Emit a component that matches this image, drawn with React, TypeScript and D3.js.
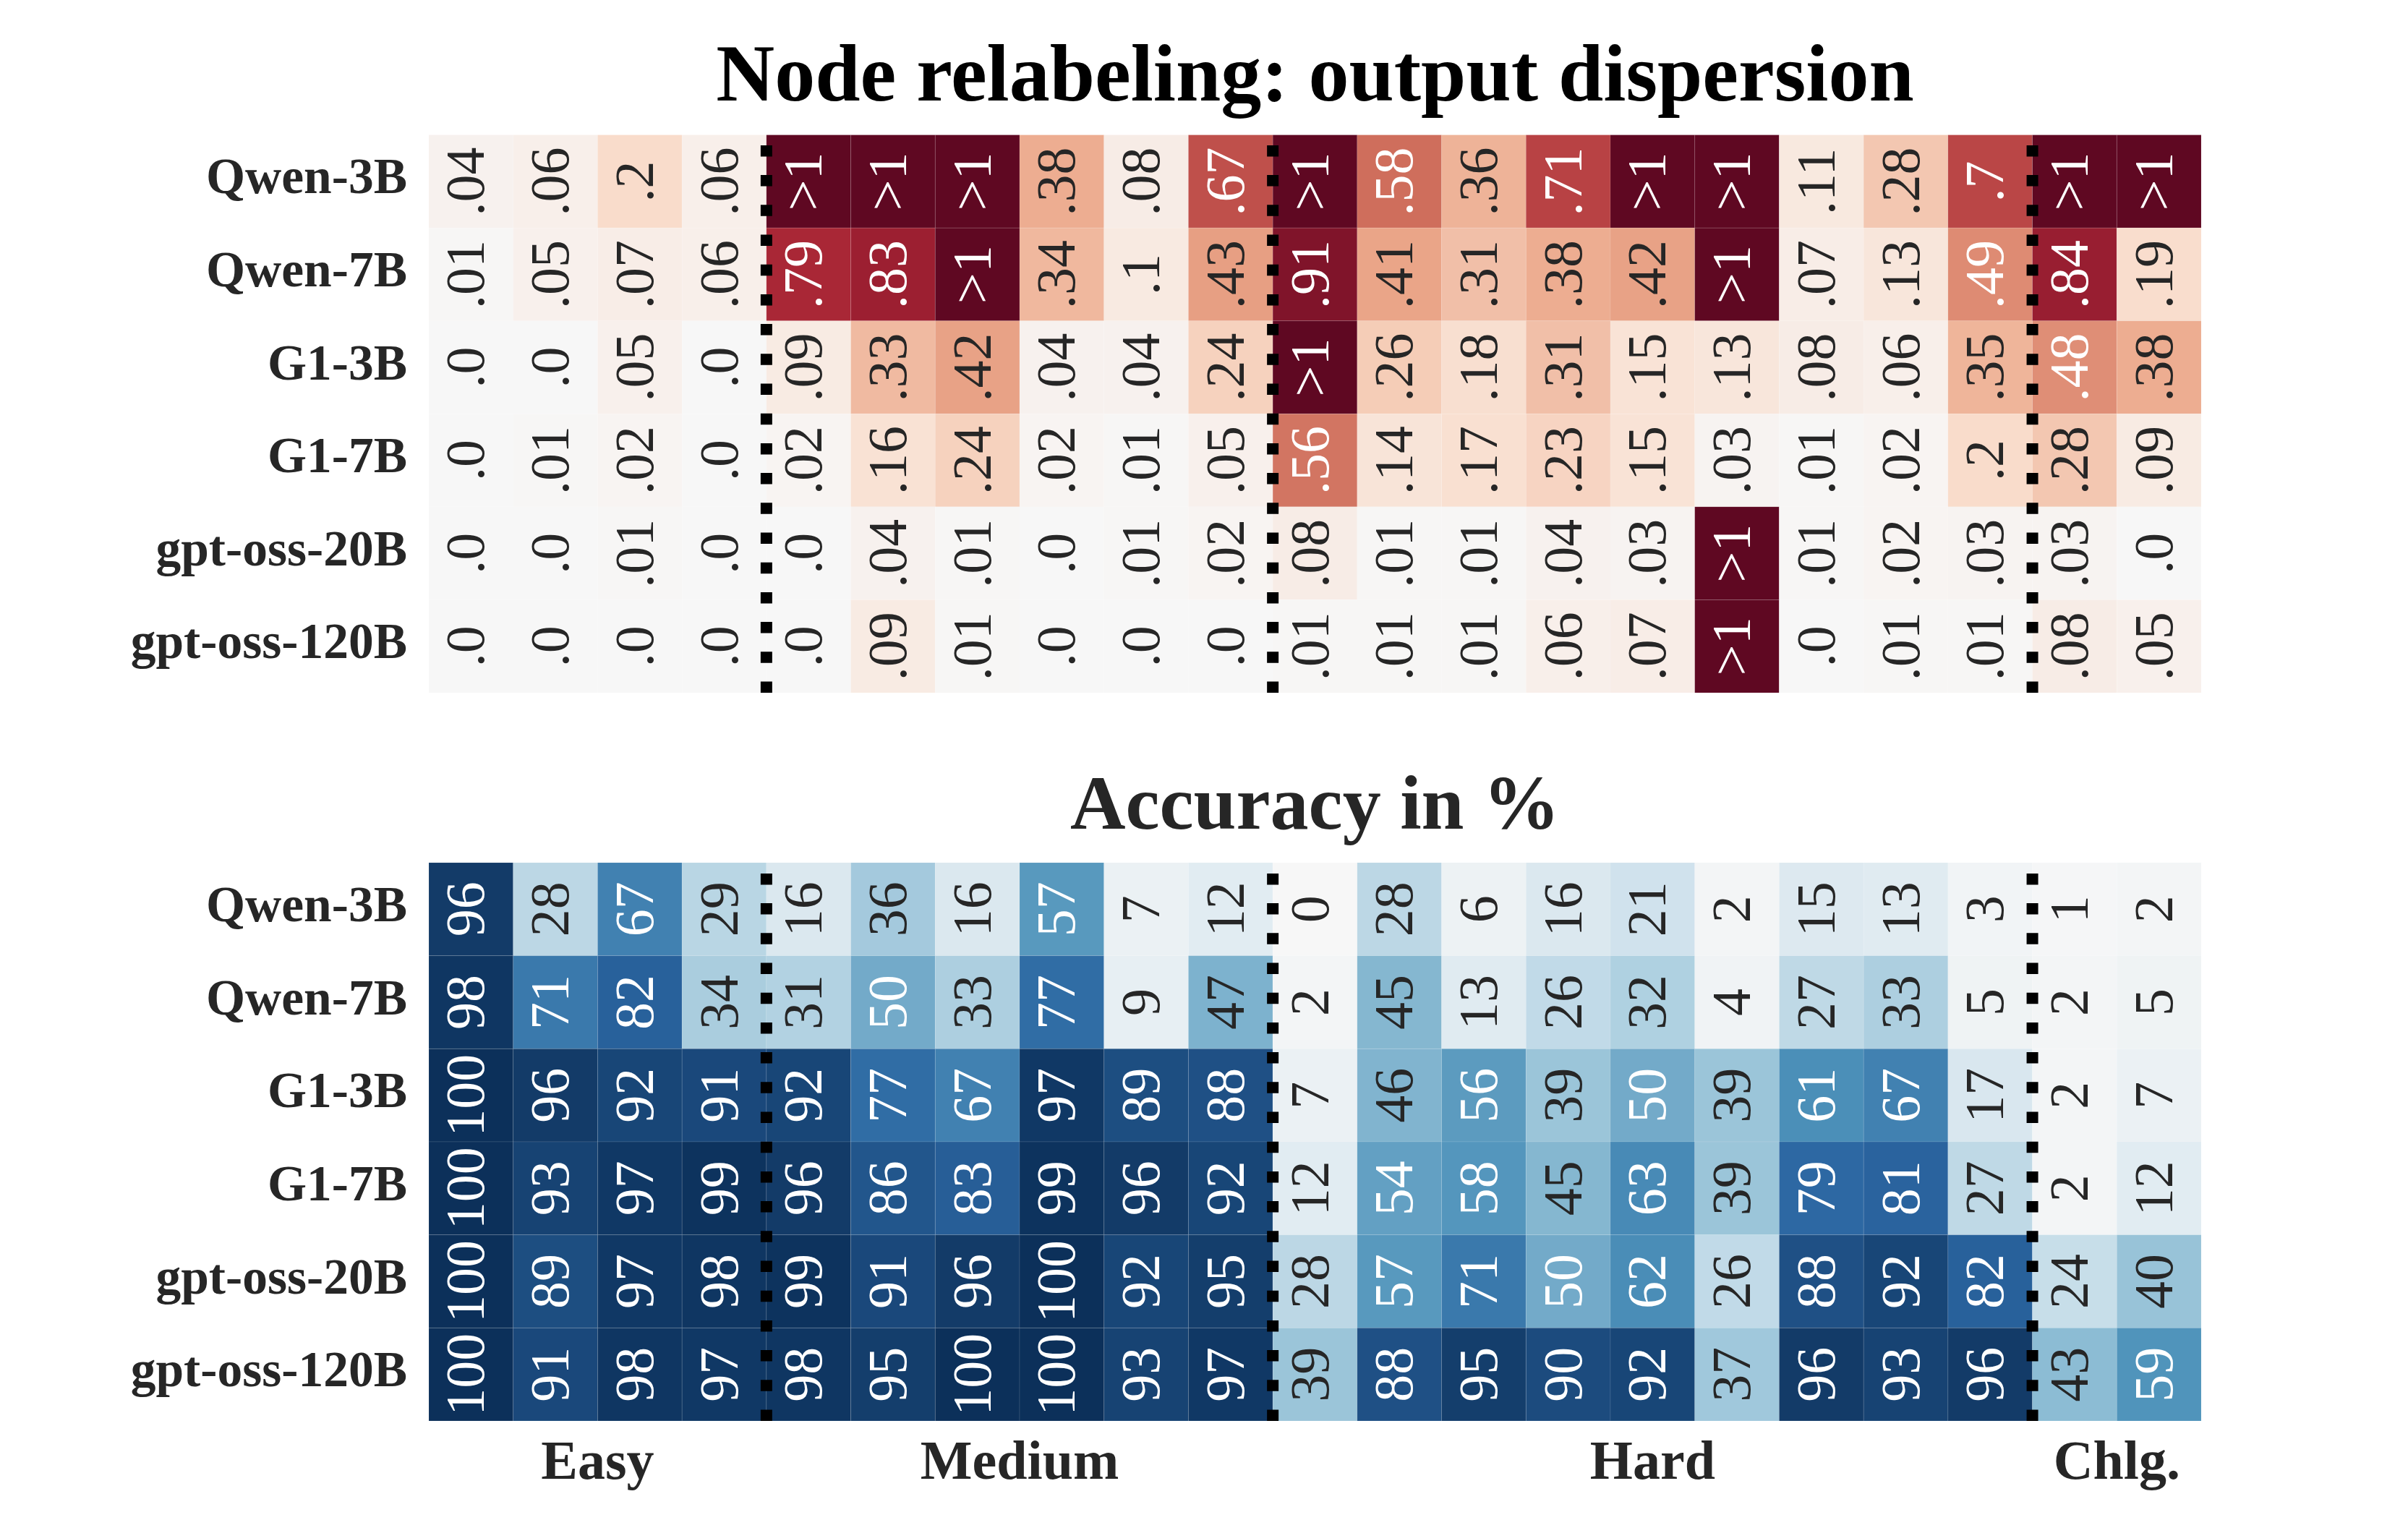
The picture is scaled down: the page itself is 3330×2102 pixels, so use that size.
import React from "react";
import * as d3 from "d3";

// ---------------- data ----------------
const MODELS = ["Qwen-3B", "Qwen-7B", "G1-3B", "G1-7B", "gpt-oss-20B", "gpt-oss-120B"];
const GROUP_LABELS = ["Easy", "Medium", "Hard", "Chlg."];
const GROUP_SIZES = [4, 6, 9, 2];

const TITLE_TOP = "Node relabeling: output dispersion";
const TITLE_BOTTOM = "Accuracy in %";

// values above 1 are shown as ">1"
const G = Infinity;

const DISP_QWEN3B = [0.04, 0.06, 0.2, 0.06, G, G, G, 0.38, 0.08, 0.67, G, 0.58, 0.36, 0.71, G, G, 0.11, 0.28, 0.7, G, G];
const DISP_QWEN7B = [0.01, 0.05, 0.07, 0.06, 0.79, 0.83, G, 0.34, 0.1, 0.43, 0.91, 0.41, 0.31, 0.38, 0.42, G, 0.07, 0.13, 0.49, 0.84, 0.19];
const DISP_G13B = [0.0, 0.0, 0.05, 0.0, 0.09, 0.33, 0.42, 0.04, 0.04, 0.24, G, 0.26, 0.18, 0.31, 0.15, 0.13, 0.08, 0.06, 0.35, 0.48, 0.38];
const DISP_G17B = [0.0, 0.01, 0.02, 0.0, 0.02, 0.16, 0.24, 0.02, 0.01, 0.05, 0.56, 0.14, 0.17, 0.23, 0.15, 0.03, 0.01, 0.02, 0.2, 0.28, 0.09];
const DISP_GPT20B = [0.0, 0.0, 0.01, 0.0, 0.0, 0.04, 0.01, 0.0, 0.01, 0.02, 0.08, 0.01, 0.01, 0.04, 0.03, G, 0.01, 0.02, 0.03, 0.03, 0.0];
const DISP_GPT120B = [0.0, 0.0, 0.0, 0.0, 0.0, 0.09, 0.01, 0.0, 0.0, 0.0, 0.01, 0.01, 0.01, 0.06, 0.07, G, 0.0, 0.01, 0.01, 0.08, 0.05];

const ACC_QWEN3B = [96, 28, 67, 29, 16, 36, 16, 57, 7, 12, 0, 28, 6, 16, 21, 2, 15, 13, 3, 1, 2];
const ACC_QWEN7B = [98, 71, 82, 34, 31, 50, 33, 77, 9, 47, 2, 45, 13, 26, 32, 4, 27, 33, 5, 2, 5];
const ACC_G13B = [100, 96, 92, 91, 92, 77, 67, 97, 89, 88, 7, 46, 56, 39, 50, 39, 61, 67, 17, 2, 7];
const ACC_G17B = [100, 93, 97, 99, 96, 86, 83, 99, 96, 92, 12, 54, 58, 45, 63, 39, 79, 81, 27, 2, 12];
const ACC_GPT20B = [100, 89, 97, 98, 99, 91, 96, 100, 92, 95, 28, 57, 71, 50, 62, 26, 88, 92, 82, 24, 40];
const ACC_GPT120B = [100, 91, 98, 97, 98, 95, 100, 100, 93, 97, 39, 88, 95, 90, 92, 37, 96, 93, 96, 43, 59];

const DISPERSION = [DISP_QWEN3B, DISP_QWEN7B, DISP_G13B, DISP_G17B, DISP_GPT20B, DISP_GPT120B];
const ACCURACY = [ACC_QWEN3B, ACC_QWEN7B, ACC_G13B, ACC_G17B, ACC_GPT20B, ACC_GPT120B];

// ---------------- layout ----------------
const W = 3330;
const H = 2102;
const X0 = 593;
const X1 = 3044;
const TOP_Y0 = 186.6;
const TOP_Y1 = 958;
const BOT_Y0 = 1193;
const BOT_Y1 = 1965;
const FONT = '"Liberation Serif", "Times New Roman", Times, serif';
const TEXT_DARK = "#262626";
const SAT = 0.85;

// matplotlib RdBu (linear segments through the ColorBrewer stops)
const RDBU = [
  "#67001f", "#b2182b", "#d6604d", "#f4a582", "#fddbc7", "#f7f7f7",
  "#d1e5f0", "#92c5de", "#4393c3", "#2166ac", "#053061",
];
const rdbuRaw = d3
  .scaleLinear<string>()
  .domain(d3.range(11).map((i) => i / 10))
  .range(RDBU)
  .interpolate(d3.interpolateRgb)
  .clamp(true);
const rdbu = (t: number) => {
  const h = d3.hsl(rdbuRaw(t));
  h.s = h.s * SAT;
  return h.formatHex();
};

const dispColor = (v: number) => {
  const c = Math.max(-1, Math.min(1, v));
  return rdbu(1 - (c + 1) / 2); // RdBu_r, vmin -1, vmax 1
};
const accColor = (v: number) => {
  const c = Math.max(-100, Math.min(100, v));
  return rdbu((c + 100) / 200); // RdBu, vmin -100, vmax 100
};

function relLum(color: string) {
  const c = d3.rgb(color);
  const f = (u: number) => {
    const x = u / 255;
    return x <= 0.03928 ? x / 12.92 : Math.pow((x + 0.055) / 1.055, 2.4);
  };
  return 0.2126 * f(c.r) + 0.7152 * f(c.g) + 0.0722 * f(c.b);
}
const textColorFor = (v: number, color: (x: number) => string) =>
  relLum(rdbuRawFor(v, color)) > 0.412 ? TEXT_DARK : "#ffffff";
// text colour decided on the undesaturated colormap value
function rdbuRawFor(v: number, color: (x: number) => string) {
  if (color === dispColor) {
    const c = Math.max(-1, Math.min(1, v));
    return rdbuRaw(1 - (c + 1) / 2);
  }
  const c = Math.max(-100, Math.min(100, v));
  return rdbuRaw((c + 100) / 200);
}

const fmtDisp = (v: number) => {
  if (v > 1) return ">1";
  let s = v.toFixed(2).replace(/0+$/, "");
  if (s.endsWith(".")) s += "0";
  return s.replace(/^0/, "");
};
const fmtAcc = (v: number) => d3.format(".0f")(v);

const NCOLS = d3.sum(GROUP_SIZES);
const xScale = d3.scaleBand<number>().domain(d3.range(NCOLS)).range([X0, X1]).padding(0);
const groupStarts = GROUP_SIZES.map((_, i) => d3.sum(GROUP_SIZES.slice(0, i)));
const separators = groupStarts.slice(1);

type HeatProps = {
  data: number[][];
  y0: number;
  y1: number;
  color: (v: number) => string;
  fmt: (v: number) => string;
};

function Heatmap({ data, y0, y1, color, fmt }: HeatProps) {
  const yScale = d3.scaleBand<number>().domain(d3.range(MODELS.length)).range([y0, y1]).padding(0);
  const cw = xScale.bandwidth();
  const ch = yScale.bandwidth();
  return (
    <g>
      {data.map((row, r) =>
        row.map((v, c) => {
          const fill = color(v);
          const cx = (xScale(c) as number) + cw / 2;
          const cy = (yScale(r) as number) + ch / 2;
          return (
            <g key={`${r}-${c}`}>
              <rect
                x={xScale(c) as number}
                y={yScale(r) as number}
                width={cw}
                height={ch}
                fill={fill}
                stroke="rgba(255,255,255,0.10)"
                strokeWidth={1}
              />
              <text
                transform={`translate(${cx},${cy}) rotate(-90)`}
                y={18}
                textAnchor="middle"
                fontFamily={FONT}
                fontSize={76}
                fill={textColorFor(v, color)}
              >
                {fmt(v)}
              </text>
            </g>
          );
        })
      )}
      {MODELS.map((m, r) => (
        <text
          key={m}
          x={X0 - 30}
          y={(yScale(r) as number) + ch / 2 + 16.5}
          textAnchor="end"
          fontFamily={FONT}
          fontWeight="bold"
          fontSize={69.5}
          fill={TEXT_DARK}
        >
          {m}
        </text>
      ))}
      {separators.map((s) => (
        <line
          key={s}
          x1={xScale(s) as number}
          x2={xScale(s) as number}
          y1={y1}
          y2={y0}
          stroke="#000"
          strokeWidth={16}
          strokeDasharray="15.5 25.7"
        />
      ))}
    </g>
  );
}

export default function App() {
  const cw = xScale.bandwidth();
  const midX = (X0 + X1) / 2;
  return (
    <svg
      width={W}
      height={H}
      viewBox={`0 0 ${W} ${H}`}
      style={{ position: "absolute", left: 0, top: 0, display: "block", background: "#fff" }}
    >
      <rect x={0} y={0} width={W} height={H} fill="#fff" />
      <text x={midX} y={139} textAnchor="middle" fontFamily={FONT} fontWeight="bold" fontSize={112} fill="#000">
        {TITLE_TOP}
      </text>
      <Heatmap data={DISPERSION} y0={TOP_Y0} y1={TOP_Y1} color={dispColor} fmt={fmtDisp} />
      <text x={midX} y={1146} textAnchor="middle" fontFamily={FONT} fontWeight="bold" fontSize={106} fill={TEXT_DARK}>
        {TITLE_BOTTOM}
      </text>
      <Heatmap data={ACCURACY} y0={BOT_Y0} y1={BOT_Y1} color={accColor} fmt={fmtAcc} />
      {GROUP_LABELS.map((g, i) => {
        const start = xScale(groupStarts[i]) as number;
        const end = start + GROUP_SIZES[i] * cw;
        return (
          <text
            key={g}
            x={(start + end) / 2}
            y={2045}
            textAnchor="middle"
            fontFamily={FONT}
            fontWeight="bold"
            fontSize={76}
            fill={TEXT_DARK}
          >
            {g}
          </text>
        );
      })}
    </svg>
  );
}
